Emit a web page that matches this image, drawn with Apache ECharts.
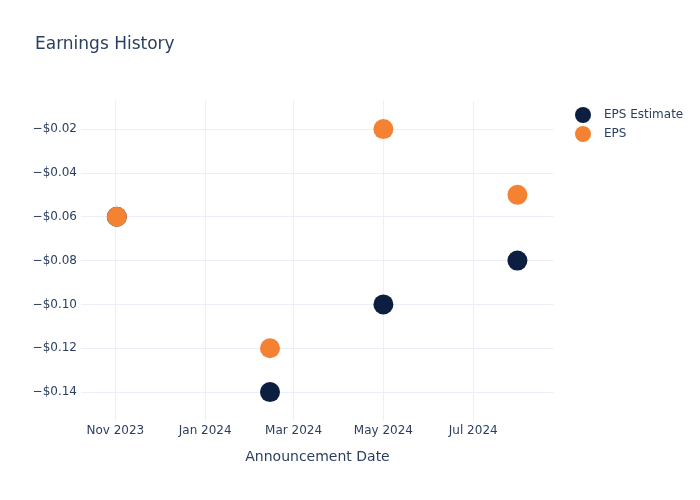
<!DOCTYPE html>
<html><head><meta charset="utf-8">
<script src="https://cdn.jsdelivr.net/npm/echarts@6/dist/echarts.min.js"></script>
<style>html,body{margin:0;padding:0;background:#fff}#c{width:700px;height:500px}</style>
</head><body><div id="c"></div>
<script>
const dates = ['2023-11-02', '2024-02-14', '2024-05-01', '2024-07-31'];
const epsEstimate = [-0.06, -0.14, -0.10, -0.08];
const eps = [-0.06, -0.12, -0.02, -0.05];
const xTickDates = ['2023-11-01', '2024-01-01', '2024-03-01', '2024-05-01', '2024-07-01'];
const yTicks = [-0.14, -0.12, -0.10, -0.08, -0.06, -0.04, -0.02];
const xRange = ['2023-10-08 16:00', '2024-08-24 20:00'];
const yRange = [-0.1532, -0.0072];

function ts(s){ const [d,t] = s.split(' '); const [y,m,dd] = d.split('-').map(Number); let h=0,mi=0; if(t){[h,mi]=t.split(':').map(Number);} return new Date(y,m-1,dd,h,mi).getTime(); }
const MON = ['Jan','Feb','Mar','Apr','May','Jun','Jul','Aug','Sep','Oct','Nov','Dec'];
const font = '"DejaVu Sans", sans-serif';
const txt = '#2a3f5f';
const gridC = '#ebf0f8';

const chart = echarts.init(document.getElementById('c'));
chart.setOption({
  animation: false,
  backgroundColor: '#fff',
  textStyle: { fontFamily: font },
  title: { text: 'Earnings History', left: 35, top: 36, padding: 0,
    textStyle: { fontFamily: font, fontSize: 17, fontWeight: 'normal', color: txt } },
  legend: { orient: 'vertical', left: 575, top: 107, padding: 0, itemWidth: 16, itemHeight: 16, itemGap: 3,
    icon: 'circle', textStyle: { fontFamily: font, fontSize: 12, color: txt, padding: [0,0,0,8] },
    data: ['EPS Estimate', 'EPS'] },
  grid: { left: 81, right: 146, top: 101, bottom: 79, containLabel: false },
  xAxis: {
    type: 'value', min: ts(xRange[0]), max: ts(xRange[1]),
    name: 'Announcement Date', nameLocation: 'middle', nameGap: 29,
    nameTextStyle: { fontFamily: font, fontSize: 14, color: txt },
    axisLine: { show: false }, 
    axisTick: { show: false, customValues: xTickDates.map(s => ts(s)) },
    axisLabel: { customValues: xTickDates.map(s => ts(s)), margin: 4, fontFamily: font, fontSize: 12, color: txt,
      formatter: v => { const d = new Date(v); return MON[d.getMonth()] + ' ' + d.getFullYear(); } },
    splitLine: { show: true, lineStyle: { color: gridC, width: 1 } }
  },
  yAxis: {
    type: 'value', min: yRange[0], max: yRange[1],
    axisLine: { show: false },
    axisTick: { show: false, customValues: yTicks },
    axisLabel: { customValues: yTicks, margin: 4, fontFamily: font, fontSize: 12, color: txt,
      formatter: v => (v < 0 ? '\u2212' : '') + '$' + Math.abs(v).toFixed(2) },
    splitLine: { show: true, lineStyle: { color: gridC, width: 1 } }
  },
  series: [
    { name: 'EPS Estimate', type: 'scatter', symbolSize: 20, itemStyle: { color: '#0d1f40', opacity: 1 },
      data: dates.map((d, i) => [ts(d), epsEstimate[i]]) },
    { name: 'EPS', type: 'scatter', symbolSize: 20, itemStyle: { color: '#f58233', opacity: 1 },
      data: dates.map((d, i) => [ts(d), eps[i]]) }
  ]
});
</script></body></html>
